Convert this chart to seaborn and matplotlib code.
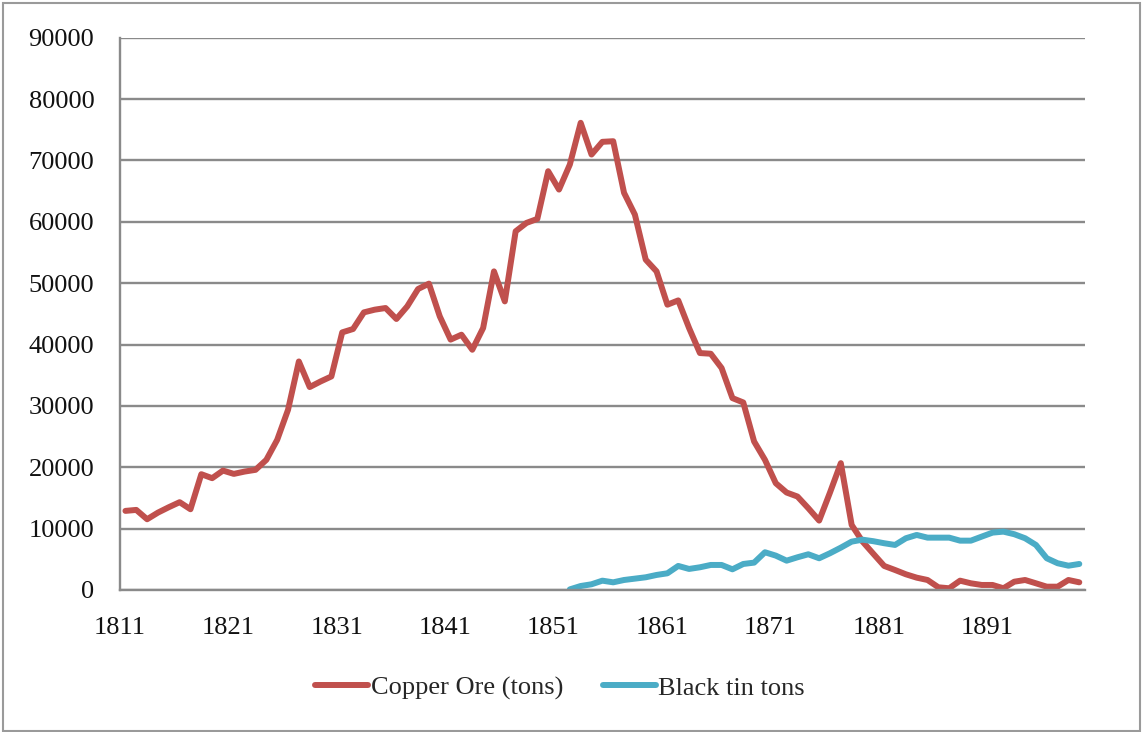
# Copper ore vs black tin output, 1811-1899
import matplotlib
matplotlib.use('Agg')
import matplotlib.pyplot as plt
import numpy as np
import pandas as pd
import seaborn as sns

# ---- data ----
copper_years = list(range(1811, 1900))
copper_tons = [
    12890, 13050, 11530, 12610, 13490, 14310, 13160, 18870, 18220, 19460,
    18920, 19300, 19580, 21210, 24470, 29360, 37240, 33070, 33980, 34800,
    41980, 42530, 45240, 45680, 45950, 44160, 46220, 49050, 49920, 44590,
    40800, 41600, 39150, 42690, 51920, 47030, 58450, 59820, 60470, 68240,
    65250, 69330, 76130, 70960, 73030, 73130, 64720, 61170, 53830, 51920,
    46490, 47190, 42690, 38610, 38500, 36170, 31270, 30560, 24200, 21210,
    17400, 15880, 15230, 13330, 11310, 15880, 20670, 10600, 7900, 5900,
    3920, 3260, 2560, 2010, 1630, 440, 280, 1520, 1090, 820,
    820, 280, 1350, 1630, 1090, 540, 540, 1630, 1250,
]
tin_years = list(range(1852, 1900))
tin_tons = [
    100, 650, 930, 1520, 1250, 1630, 1850, 2070, 2450, 2720,
    3920, 3430, 3700, 4080, 4080, 3370, 4240, 4460, 6150, 5600,
    4780, 5330, 5820, 5170, 5990, 6900, 7880, 8200, 7950, 7620,
    7340, 8430, 8970, 8530, 8530, 8530, 8040, 8040, 8700, 9350,
    9510, 9090, 8430, 7340, 5170, 4360, 3960, 4240,
]
series_names = ['Copper Ore (tons)', 'Black tin tons']
series_colors = ['#C0504D', '#4BACC6']
x_tick_labels = ['1811', '1821', '1831', '1841', '1851', '1861', '1871', '1881', '1891']
y_ticks = list(range(0, 90001, 10000))

df = pd.concat([
    pd.DataFrame({'year': copper_years, 'tons': copper_tons, 'series': series_names[0]}),
    pd.DataFrame({'year': tin_years, 'tons': tin_tons, 'series': series_names[1]}),
], ignore_index=True)

sns.set_style('white')
plt.rcParams['font.family'] = ['Liberation Serif', 'DejaVu Serif']

fig = plt.figure(figsize=(11.43, 7.32), dpi=100)
ax = fig.add_axes([0.105, 0.194, 0.844, 0.7545])

line_w = 4.3
sns.lineplot(data=df, x='year', y='tons', hue='series', hue_order=series_names,
             palette=series_colors, linewidth=line_w, ax=ax, legend=False,
             solid_capstyle='round', solid_joinstyle='round')

grid_col = '#8a8a8a'
# categories sit between tick marks, so ticks fall on half-years
ax.set_xlim(1810.5, 1899.5)
ax.set_xticks(np.arange(1810.5, 1891, 10))
ax.set_xticklabels(x_tick_labels)
ax.set_ylim(0, 90000)
ax.set_yticks(y_ticks)
ax.set_yticklabels([str(v) for v in y_ticks])

ax.yaxis.grid(True, color=grid_col, linewidth=1.7)
ax.set_axisbelow(True)
for side in ['top', 'right']:
    ax.spines[side].set_visible(False)
for side in ['left', 'bottom']:
    ax.spines[side].set_color(grid_col)
    ax.spines[side].set_linewidth(1.7)
ax.tick_params(axis='both', direction='out', length=6.5, width=1.7, color=grid_col,
               labelsize=19, labelcolor='#111111')
ax.tick_params(axis='y', pad=12)
ax.tick_params(axis='x', pad=13)
ax.set_xlabel('')
ax.set_ylabel('')

handles = [plt.Line2D([], [], color=c, linewidth=line_w, solid_capstyle='round') for c in series_colors]
fig.legend(handles, series_names, loc='center', bbox_to_anchor=(0.49, 0.06), ncol=2,
           frameon=False, fontsize=19, handlelength=2.0, handletextpad=0.1,
           columnspacing=1.5)

# outer chart border
fig.patches.append(plt.Rectangle((0.003, 0.002), 0.994, 0.994, transform=fig.transFigure,
                                 fill=False, edgecolor='#9a9a9a', linewidth=1.5))

fig.savefig('out.png', dpi=100)
